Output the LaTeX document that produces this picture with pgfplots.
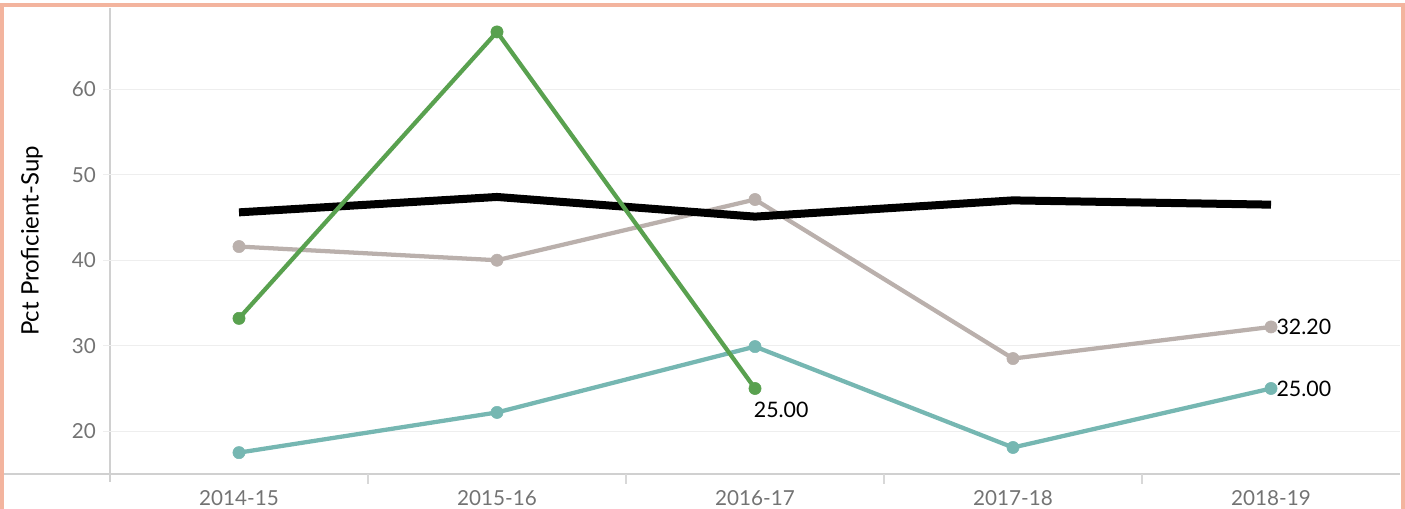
\documentclass[border=0pt]{standalone}
\usepackage{fontspec}
\setmainfont{Lato}
\usepackage{pgfplots}
\pgfplotsset{compat=1.18}
\definecolor{frame}{RGB}{243,180,158}
\definecolor{cgreen}{RGB}{89,161,79}
\definecolor{cteal}{RGB}{118,183,178}
\definecolor{ctan}{RGB}{186,176,172}
\definecolor{ticktxt}{RGB}{115,115,115}
\definecolor{gridc}{RGB}{238,238,238}
\definecolor{axisc}{RGB}{208,208,208}
\begin{document}
\begin{tikzpicture}[x=0.75pt,y=0.75pt,font=\fontsize{15.5}{18}\selectfont]
\path[use as bounding box] (0,0) rectangle (1405,509);
% axis decorations (pixel units)
\draw[axisc,line width=1.5pt] (3,35) -- (1400,35);
\draw[axisc,line width=0.8pt] (110,501) -- (110,27);
\begin{axis}[at={(82.5pt,26.25pt)},anchor=south west,scale only axis,
  width=967.5pt,height=349.5pt,
  xmin=-0.5,xmax=4.5,ymin=15,ymax=69.5,
  axis line style={draw=none},
  xtick pos=bottom,ytick pos=left,
  xtick={0,1,2,3,4},
  xticklabels={2014-15,2015-16,2016-17,2017-18,2018-19},
  minor xtick={0.5,1.5,2.5,3.5},
  ytick={20,30,40,50,60},
  ymajorgrids,
  grid style={gridc,line width=0.8pt},
  tick align=outside,
  xtick style={draw=none},
  minor x tick style={draw=gridc!80!gray,line width=0.8pt},
  minor tick length=7.5pt,
  ytick style={draw=gridc,line width=0.8pt},
  major tick length=5pt,
  tick label style={text=ticktxt,font=\fontsize{15.5}{18}\selectfont},
  xticklabel style={yshift=-3.5pt},
  yticklabel style={xshift=-2pt},
  /pgf/number format/assume math mode=true,
  ylabel={Pct Proficient-Sup},
  ylabel style={at={(axis description cs:-0.0605,0.5)},anchor=center,text={RGB,255:red,50;green,50;blue,50},font=\fontsize{18}{20}\selectfont},
  clip=false,
  every axis plot/.append style={line join=round},
  nodes near coords style={text={RGB,255:red,30;green,30;blue,30},font=\fontsize{16}{18}\selectfont},
]
\addplot[cteal,line width=3.2pt,mark=*,mark size=4.6pt,mark options={line width=0.4pt}] coordinates {(0,17.5)(1,22.2)(2,29.9)(3,18.1)(4,25.0)};
\addplot[ctan,line width=3.2pt,mark=*,mark size=4.6pt,mark options={line width=0.4pt}] coordinates {(0,41.6)(1,40.0)(2,47.1)(3,28.5)(4,32.2)};
\addplot[black,line width=6pt] coordinates {(0,45.6)(1,47.4)(2,45.1)(3,47.0)(4,46.5)};
\addplot[cgreen,line width=3.2pt,mark=*,mark size=4.6pt,mark options={line width=0.4pt}] coordinates {(0,33.2)(1,66.7)(2,25.0)};
% end-of-line value labels
\addplot[draw=none,point meta=explicit symbolic,nodes near coords,
  nodes near coords style={anchor=north west,inner sep=0pt,xshift=-1pt,yshift=-10pt}] coordinates {(2,25.0) [25.00]};
\addplot[draw=none,point meta=explicit symbolic,nodes near coords,
  nodes near coords style={anchor=west,inner sep=0pt,xshift=4pt,yshift=0pt}] coordinates {(4,32.2) [32.20] (4,25.0) [25.00]};
\end{axis}
\draw[frame,line width=3pt] (1.5,0) -- (1.5,504) -- (1402.5,504) -- (1402.5,0);
\end{tikzpicture}
\end{document}
